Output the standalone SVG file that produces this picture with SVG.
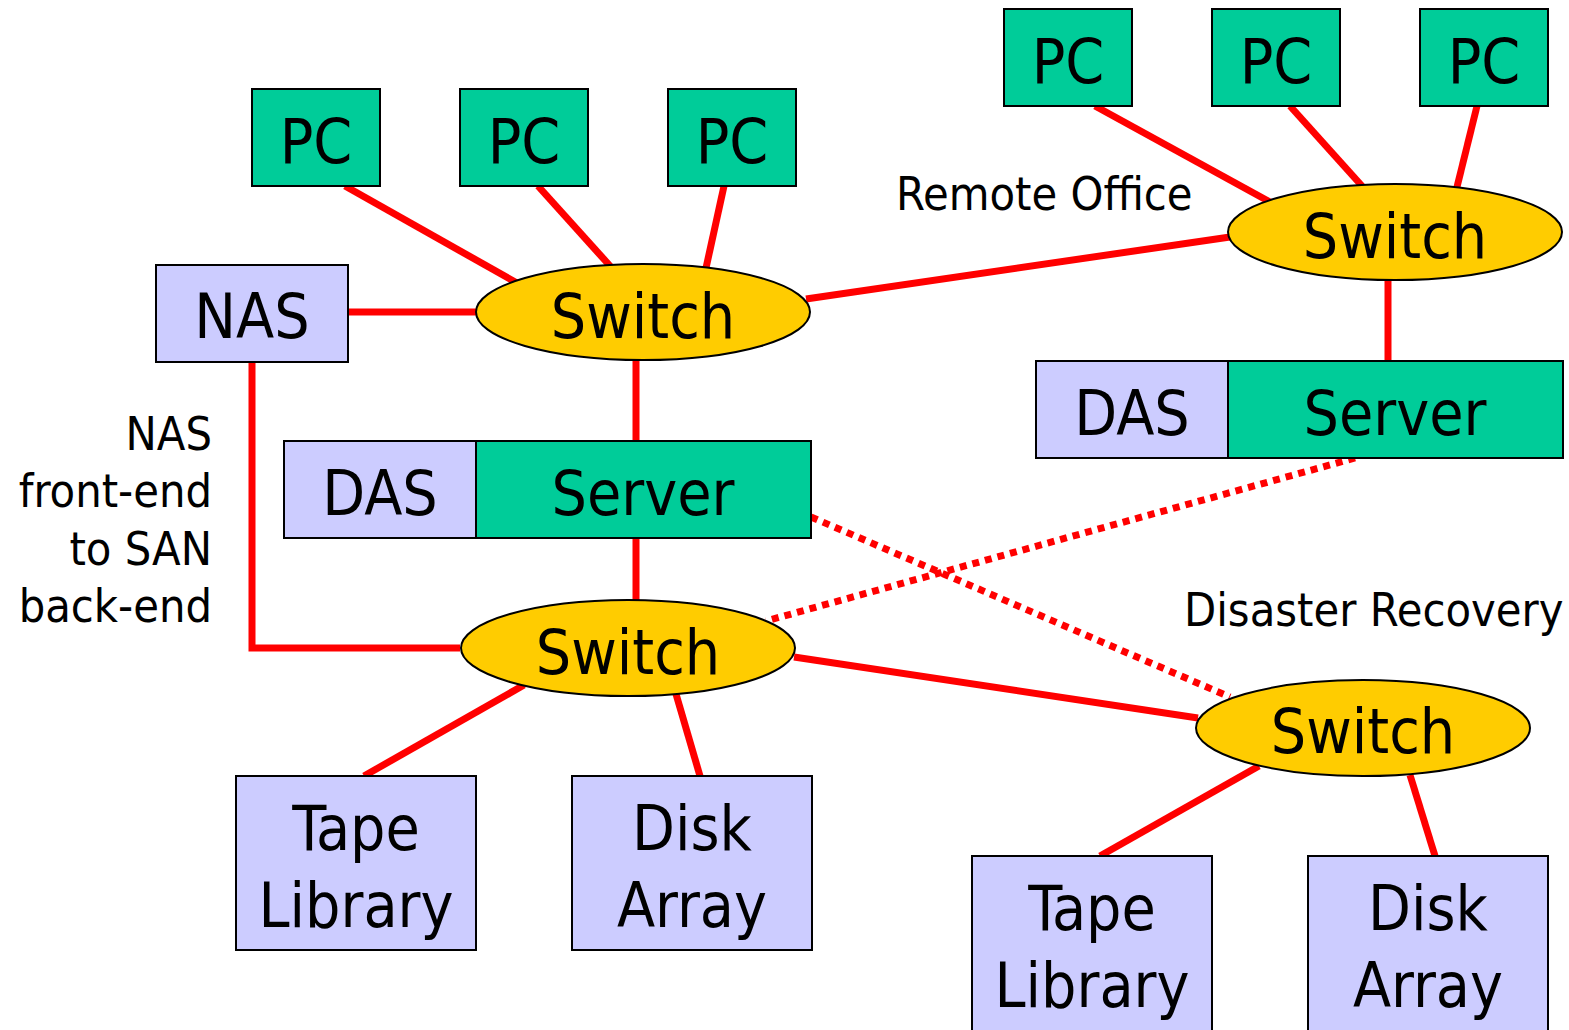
<svg xmlns="http://www.w3.org/2000/svg" width="1569" height="1030" viewBox="0 0 1569 1030">
  <style>
    .pc { fill: #00CC99; stroke: #000; stroke-width: 2; }
    .store { fill: #CCCCFF; stroke: #000; stroke-width: 2; }
    .sw { fill: #FFCC00; stroke: #000; stroke-width: 2; }
    .t { font-family: "DejaVu Sans Condensed", "DejaVu Sans", sans-serif; font-size: 62px; fill: #000; text-anchor: middle; }
    .lbl { font-family: "DejaVu Sans Condensed", "DejaVu Sans", sans-serif; font-size: 46.5px; fill: #000; }
    .link { stroke: #FF0000; stroke-width: 7; fill: none; }
    .dot { stroke: #FF0000; stroke-width: 7; fill: none; stroke-dasharray: 7 6; }
  </style>
  <rect width="1569" height="1030" fill="#fff"/>

  <!-- connectors -->
  <g id="connectors">
    <line class="link" x1="345" y1="186" x2="517" y2="283"/>
    <line class="link" x1="538" y1="186" x2="611" y2="267"/>
    <line class="link" x1="724" y1="186" x2="706" y2="268"/>
    <line class="link" x1="348" y1="312" x2="476" y2="312"/>
    <line class="link" x1="806" y1="299" x2="1230" y2="237"/>
    <line class="link" x1="636" y1="360" x2="636" y2="441"/>
    <line class="link" x1="636" y1="538" x2="636" y2="601"/>
    <polyline class="link" points="252,362 252,648 460,648"/>
    <line class="link" x1="524" y1="685" x2="364" y2="776"/>
    <line class="link" x1="676" y1="694" x2="700" y2="776"/>
    <line class="link" x1="794" y1="657" x2="1198" y2="718"/>
    <line class="link" x1="1259" y1="766" x2="1100" y2="856"/>
    <line class="link" x1="1410" y1="775" x2="1435" y2="856"/>
    <line class="link" x1="1095" y1="106" x2="1270" y2="202"/>
    <line class="link" x1="1290" y1="106" x2="1362" y2="186"/>
    <line class="link" x1="1477" y1="106" x2="1457" y2="187"/>
    <line class="link" x1="1388" y1="280" x2="1388" y2="361"/>
    <line class="dot" x1="811" y1="517" x2="1230" y2="697"/>
    <line class="dot" x1="1355" y1="458" x2="766" y2="621"/>
  </g>

  <!-- main office -->
  <g id="pc-1"><rect class="pc" x="252" y="89" width="128" height="97"/><text class="t" x="316" y="163">PC</text></g>
  <g id="pc-2"><rect class="pc" x="460" y="89" width="128" height="97"/><text class="t" x="524" y="163">PC</text></g>
  <g id="pc-3"><rect class="pc" x="668" y="89" width="128" height="97"/><text class="t" x="732" y="163">PC</text></g>
  <g id="nas"><rect class="store" x="156" y="265" width="192" height="97"/><text class="t" x="252" y="338">NAS</text></g>
  <g id="switch-lan"><ellipse class="sw" cx="643" cy="312" rx="167" ry="48"/><text class="t" x="643" y="338">Switch</text></g>
  <g id="das-1"><rect class="store" x="284" y="441" width="192" height="97"/><text class="t" x="380" y="515">DAS</text></g>
  <g id="server-1"><rect class="pc" x="476" y="441" width="335" height="97"/><text class="t" x="643" y="515">Server</text></g>
  <g id="switch-san"><ellipse class="sw" cx="628" cy="648" rx="167" ry="48"/><text class="t" x="628" y="674">Switch</text></g>
  <g id="tape-1"><rect class="store" x="236" y="776" width="240" height="174"/><text class="t" x="356" y="850">Tape</text><text class="t" x="356" y="927">Library</text></g>
  <g id="disk-1"><rect class="store" x="572" y="776" width="240" height="174"/><text class="t" x="692" y="850">Disk</text><text class="t" x="692" y="927">Array</text></g>

  <!-- remote office -->
  <g id="pc-4"><rect class="pc" x="1004" y="9" width="128" height="97"/><text class="t" x="1068" y="83">PC</text></g>
  <g id="pc-5"><rect class="pc" x="1212" y="9" width="128" height="97"/><text class="t" x="1276" y="83">PC</text></g>
  <g id="pc-6"><rect class="pc" x="1420" y="9" width="128" height="97"/><text class="t" x="1484" y="83">PC</text></g>
  <g id="switch-remote"><ellipse class="sw" cx="1395" cy="232" rx="167" ry="48"/><text class="t" x="1395" y="258">Switch</text></g>
  <g id="das-2"><rect class="store" x="1036" y="361" width="192" height="97"/><text class="t" x="1132" y="435">DAS</text></g>
  <g id="server-2"><rect class="pc" x="1228" y="361" width="335" height="97"/><text class="t" x="1395" y="435">Server</text></g>

  <!-- disaster recovery site -->
  <g id="switch-dr"><ellipse class="sw" cx="1363" cy="728" rx="167" ry="48"/><text class="t" x="1363" y="753">Switch</text></g>
  <g id="tape-2"><rect class="store" x="972" y="856" width="240" height="180"/><text class="t" x="1092" y="930">Tape</text><text class="t" x="1092" y="1007">Library</text></g>
  <g id="disk-2"><rect class="store" x="1308" y="856" width="240" height="180"/><text class="t" x="1428" y="930">Disk</text><text class="t" x="1428" y="1007">Array</text></g>

  <!-- labels -->
  <g id="labels">
    <text class="lbl" x="896" y="210">Remote Office</text>
    <text class="lbl" x="1184" y="626">Disaster Recovery</text>
    <text class="lbl" text-anchor="end" x="212" y="450">NAS</text>
    <text class="lbl" text-anchor="end" x="212" y="507">front-end</text>
    <text class="lbl" text-anchor="end" x="212" y="565">to SAN</text>
    <text class="lbl" text-anchor="end" x="212" y="622">back-end</text>
  </g>
</svg>
